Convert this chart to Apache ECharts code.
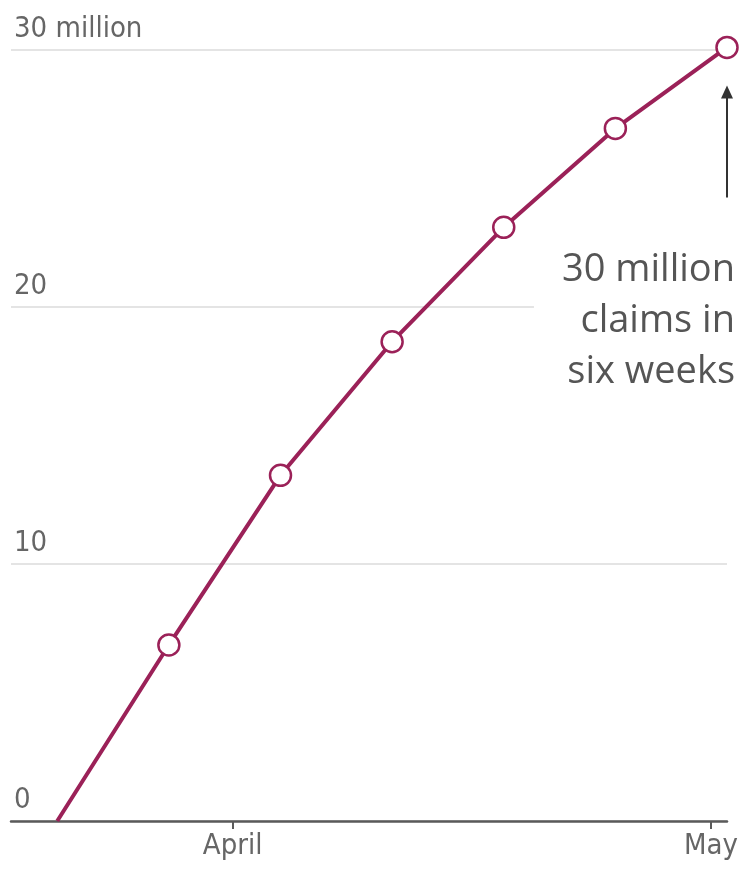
<!DOCTYPE html>
<html>
<head>
<meta charset="utf-8">
<script src="https://cdn.jsdelivr.net/npm/echarts@6/dist/echarts.min.js"></script>
<style>
  html, body { margin: 0; padding: 0; background: #fff; }
  #chart { width: 742px; height: 875px; }
</style>
</head>
<body>
<div id="chart"></div>
<script>
// Week-ending positions, counted in days from April 1
const weekDays = [-11, -4, 3, 10, 17, 24, 31];
// Cumulative jobless claims, millions
const cumulativeClaims = [0, 6.85, 13.45, 18.65, 23.1, 26.95, 30.1];
// Month ticks on the time axis (days from April 1) and their labels
const monthTicks = [0, 30];
const monthLabels = ['April', 'May'];
const annotationLines = ['30 million', 'claims in', 'six weeks'];

const lineColor = '#9b2158';
const labelFont = '"DejaVu Sans Condensed", "Liberation Sans Narrow", "Roboto", sans-serif';

const chart = echarts.init(document.getElementById('chart'), null, { renderer: 'canvas' });

const option = {
  backgroundColor: '#fff',
  animation: false,
  grid: { left: 11, right: 15, top: 50, bottom: 54, containLabel: false },
  xAxis: {
    type: 'value',
    min: -13.9,
    max: 31,
    axisLine: { show: true, lineStyle: { color: '#5a5a5a', width: 2.5 } },
    axisTick: { show: true, customValues: monthTicks, length: 8, lineStyle: { color: '#5a5a5a', width: 2 } },
    axisLabel: {
      customValues: monthTicks,
      formatter: v => monthLabels[monthTicks.indexOf(v)] || '',
      color: '#666',
      fontFamily: labelFont,
      fontSize: 29,
      margin: 11
    },
    splitLine: { show: false }
  },
  yAxis: {
    type: 'value',
    min: 0,
    max: 30,
    interval: 10,
    axisLine: { show: false },
    axisTick: { show: false },
    axisLabel: {
      inside: true,
      verticalAlign: 'bottom',
      align: 'left',
      margin: 3,
      color: '#666',
      fontFamily: labelFont,
      fontSize: 29,
      padding: [0, 0, 6, 0],
      formatter: v => (v === 30 ? '30 million' : String(v))
    },
    splitLine: { show: true, lineStyle: { color: '#e4e4e4', width: 2 } }
  },
  series: [{
    type: 'line',
    data: weekDays.map((d, i) => ({
      value: [d, cumulativeClaims[i]],
      // the starting point at zero carries no marker
      symbol: i === 0 ? 'none' : 'circle'
    })),
    clip: false,
    symbolSize: 21,
    showSymbol: true,
    lineStyle: { color: lineColor, width: 4 },
    itemStyle: { color: '#fff', borderColor: lineColor, borderWidth: 2.5 },
    z: 5
  }]
};

chart.setOption(option);

// Annotation: arrow pointing at the last point, with text beneath
const last = weekDays.length - 1;
const tip = chart.convertToPixel({ gridIndex: 0 }, [weekDays[last], cumulativeClaims[last]]);
const ax = tip[0];
const arrowTop = tip[1] + 38;
const arrowBottom = tip[1] + 150;

chart.setOption({
  graphic: [
    {
      type: 'line',
      shape: { x1: ax, y1: arrowTop + 10, x2: ax, y2: arrowBottom },
      style: { stroke: '#333', lineWidth: 2 },
      z: 10
    },
    {
      type: 'polygon',
      shape: { points: [[ax, arrowTop], [ax - 6, arrowTop + 13], [ax + 6, arrowTop + 13]] },
      style: { fill: '#333' },
      z: 10
    },
    {
      type: 'text',
      x: 735,
      y: 245,
      style: {
        text: annotationLines.join('\n'),
        fill: '#555',
        font: '38px "Open Sans", "Noto Sans", sans-serif',
        lineHeight: 51,
        align: 'right',
        verticalAlign: 'top',
        backgroundColor: '#fff',
        padding: [0, 0, 0, 28]
      },
      z: 10
    }
  ]
});
</script>
</body>
</html>
